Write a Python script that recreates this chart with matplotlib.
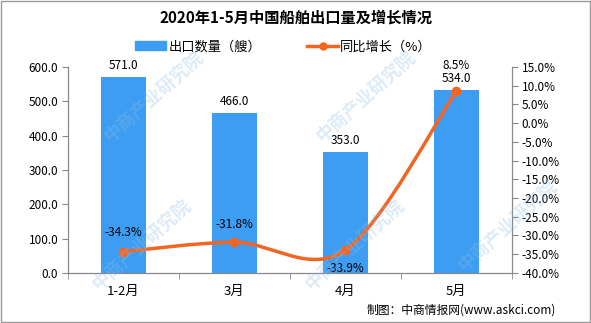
import numpy as np
import matplotlib
matplotlib.use("Agg")
import matplotlib.pyplot as plt
from matplotlib.path import Path
from matplotlib.patches import PathPatch, Rectangle
from matplotlib.lines import Line2D

plt.rcParams['font.family'] = ['Noto Sans CJK SC', 'DejaVu Sans']

categories = ["1-2月", "3月", "4月", "5月"]
export_count = [571.0, 466.0, 353.0, 534.0]
yoy_growth = [-34.3, -31.8, -33.9, 8.5]
left_ticks = [0, 100, 200, 300, 400, 500, 600]
right_ticks = [-40, -35, -30, -25, -20, -15, -10, -5, 0, 5, 10, 15]

bar_color = '#3d9df2'
line_color = '#f26522'
tick_fs = 8.5

fig = plt.figure(figsize=(5.91, 3.23), dpi=100)
ax1 = fig.add_axes([0.115, 0.155, 0.751, 0.638])
ax2 = ax1.twinx()

# watermark
for (wx, wy) in [(0.26, 0.70), (0.62, 0.70), (0.24, 0.24), (0.60, 0.24), (0.86, 0.30)]:
    fig.text(wx, wy, "中商产业研究院", rotation=42, color='#8fbde6', alpha=0.3, fontsize=13,
             ha='center', va='center', zorder=0, fontweight='bold')

x = np.arange(len(categories))
ax1.bar(x, export_count, width=0.405, color=bar_color, zorder=2)
for xi, v in zip(x, export_count):
    ax1.text(xi, v + 14, f"{v:.1f}", ha='center', va='bottom', fontsize=tick_fs, zorder=5)

# smoothed line (Catmull-Rom through the data points)
pts = list(zip(x.astype(float), yoy_growth))
verts = [pts[0]]
codes = [Path.MOVETO]
n = len(pts)
for i in range(n - 1):
    p0 = np.array(pts[max(i - 1, 0)])
    p1 = np.array(pts[i])
    p2 = np.array(pts[i + 1])
    p3 = np.array(pts[min(i + 2, n - 1)])
    c1 = p1 + (p2 - p0) / 6
    c2 = p2 - (p3 - p1) / 6
    verts += [tuple(c1), tuple(c2), tuple(p2)]
    codes += [Path.CURVE4] * 3
ax2.add_patch(PathPatch(Path(verts, codes), facecolor='none', edgecolor=line_color, lw=2.5, zorder=3))
ax2.plot(x, yoy_growth, linestyle='none', marker='o', color=line_color, markersize=6, zorder=4)

label_offsets = [5.0, 4.8, -4.8, 6.8]
for xi, v, off in zip(x, yoy_growth, label_offsets):
    ax2.text(xi, v + off, f"{v:.1f}%", ha='center', va='center', fontsize=tick_fs, zorder=5)

ax1.set_xlim(-0.5, 3.5)
ax1.set_ylim(0, 600)
ax2.set_ylim(-40, 15)
ax1.set_yticks(left_ticks)
ax1.set_yticklabels([f"{t:.1f}" for t in left_ticks], fontsize=tick_fs)
ax2.set_yticks(right_ticks)
ax2.set_yticklabels([f"{t:.1f}%" for t in right_ticks], fontsize=tick_fs)
ax1.set_xticks(x)
ax1.set_xticklabels(categories, fontsize=9.5)
ax1.set_xticks([-0.5, 0.5, 1.5, 2.5, 3.5], minor=True)
ax1.tick_params(axis='x', which='major', length=0, pad=9)
ax1.tick_params(axis='x', which='minor', length=4, color='#888888')
ax1.tick_params(axis='y', length=4, color='#888888', pad=3)
ax2.tick_params(axis='y', length=4, color='#888888', pad=3)

for a in (ax1, ax2):
    a.spines['top'].set_visible(False)
    for s in ['left', 'right', 'bottom']:
        a.spines[s].set_color('#888888')
ax1.patch.set_visible(False)

fig.text(0.5, 0.945, "2020年1-5月中国船舶出口量及增长情况", ha='center', va='center',
         fontsize=11, fontweight='bold')

handles = [Rectangle((0, 0), 1, 1, color=bar_color),
           Line2D([0], [0], color=line_color, lw=2.5, marker='o', markersize=5)]
fig.legend(handles, ["出口数量（艘）", "同比增长（%）"], loc='center', bbox_to_anchor=(0.48, 0.855),
           ncol=2, frameon=False, fontsize=9.5, handlelength=2.3, columnspacing=3.5,
           handletextpad=0.2)

fig.text(0.94, 0.04, "制图：中商情报网(www.askci.com)", ha='right', va='center', fontsize=8.5)

fig.add_artist(Rectangle((0.002, 0.003), 0.996, 0.994, transform=fig.transFigure,
                         fill=False, edgecolor='#999999', lw=1))

fig.savefig("out.png", dpi=100)
